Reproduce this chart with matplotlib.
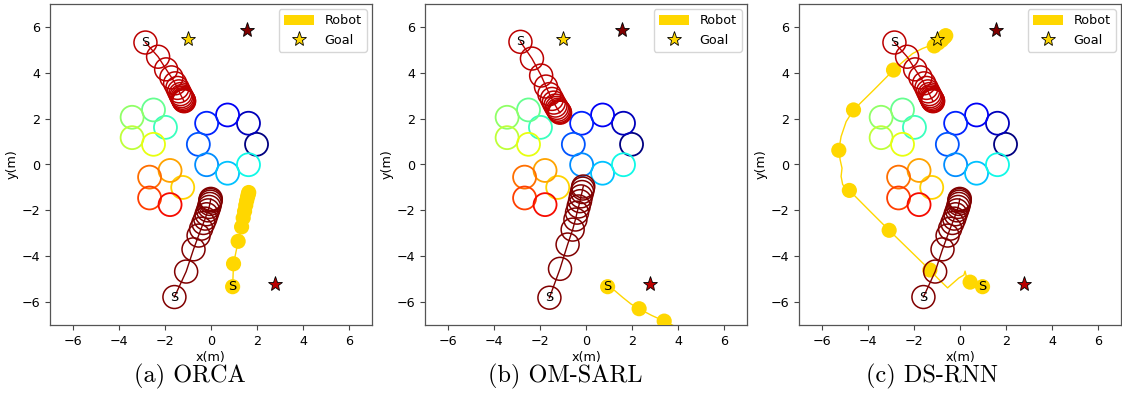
import matplotlib
matplotlib.use("Agg")
import matplotlib.pyplot as plt
from matplotlib.patches import Circle, Patch
from matplotlib.lines import Line2D

plt.rcParams["font.family"] = ["DejaVu Sans"]

# ---- scene data -----------------------------------------------------------
titles = ["(a) ORCA", "(b) OM-SARL", "(c) DS-RNN"]
ticks = [-6, -4, -2, 0, 2, 4, 6]

# static humans (ring, left cluster, lower cluster), in colour-index order
static_humans = [
    (1.98, 0.88), (1.63, 1.80), (0.72, 2.16), (-0.19, 1.80),
    (-0.55, 0.88), (-0.19, -0.01), (0.72, -0.38), (1.63, -0.01),
    (-1.98, 1.62), (-2.50, 2.38), (-3.43, 2.06), (-3.43, 1.17), (-2.50, 0.88),
    (-1.23, -1.00), (-1.78, -0.26), (-2.67, -0.55), (-2.67, -1.46), (-1.78, -1.75),
]

# moving humans: upper walker (index 18) and lower walker (index 19)
upper_walker_ac = [(-2.85, 5.32), (-2.30, 4.70), (-1.95, 4.15), (-1.72, 3.80),
                   (-1.56, 3.54), (-1.46, 3.34), (-1.39, 3.19), (-1.33, 3.07),
                   (-1.29, 2.98), (-1.25, 2.91), (-1.22, 2.85), (-1.20, 2.81),
                   (-1.18, 2.78), (-1.17, 2.76)]
lower_walker_ac = [(-1.59, -5.78), (-1.08, -4.67), (-0.76, -3.70), (-0.54, -3.10),
                   (-0.43, -2.80), (-0.33, -2.55), (-0.25, -2.36), (-0.19, -2.17),
                   (-0.13, -2.00), (-0.08, -1.85), (-0.05, -1.72), (-0.03, -1.62),
                   (-0.02, -1.55), (-0.01, -1.50)]
upper_walker_b = [(-2.85, 5.35), (-2.35, 4.62), (-1.95, 3.88), (-1.74, 3.40),
                  (-1.59, 3.07), (-1.48, 2.86), (-1.40, 2.70), (-1.33, 2.57),
                  (-1.27, 2.47), (-1.22, 2.39), (-1.18, 2.33), (-1.15, 2.29),
                  (-1.13, 2.26)]
lower_walker_b = [(-1.59, -5.81), (-1.13, -4.55), (-0.80, -3.49), (-0.58, -2.84),
                  (-0.46, -2.40), (-0.39, -2.10), (-0.32, -1.83), (-0.26, -1.60),
                  (-0.22, -1.39), (-0.17, -1.20), (-0.14, -1.05), (-0.12, -0.96)]

human_goals = [(1.58, 5.87), (2.79, -5.23)]   # goals of walkers 19 and 18
robot_goal = (-0.98, 5.46)

# robot paths (line) and sampled robot positions (discs)
robot_path_a = [(0.94, -5.33), (0.98, -4.33), (1.18, -3.35), (1.33, -2.72),
                (1.40, -2.33), (1.46, -2.04), (1.51, -1.78), (1.55, -1.58),
                (1.59, -1.42), (1.62, -1.30), (1.64, -1.22)]
robot_disc_a = robot_path_a

robot_path_b = [(0.94, -5.33), (1.25, -5.50), (1.60, -5.80), (1.95, -6.08),
                (2.31, -6.29), (2.85, -6.58), (3.40, -6.83), (3.95, -7.10)]
robot_disc_b = [(0.94, -5.33), (2.31, -6.29), (3.40, -6.83)]

robot_path_c = [(0.98, -5.33), (0.70, -5.22), (0.44, -5.13), (0.30, -4.98),
                (0.22, -4.65), (0.17, -4.82), (-0.05, -4.95), (-0.54, -5.38),
                (-0.95, -4.98), (-1.31, -4.60), (-2.20, -3.73), (-3.08, -2.87),
                (-3.95, -2.00), (-4.81, -1.13), (-5.10, -0.88), (-5.17, -0.52),
                (-5.13, -0.16), (-5.21, 0.20), (-5.27, 0.62), (-5.17, 1.22),
                (-4.95, 1.87), (-4.63, 2.38), (-3.75, 3.25), (-2.89, 4.12),
                (-2.40, 4.55), (-2.06, 4.84), (-1.63, 5.06), (-1.34, 5.17),
                (-1.12, 5.17), (-0.95, 5.30), (-0.80, 5.42), (-0.68, 5.55),
                (-0.62, 5.62)]
robot_disc_c = [(0.98, -5.33), (0.44, -5.13), (-1.31, -4.60), (-3.08, -2.87),
                (-4.81, -1.13), (-5.27, 0.62), (-4.63, 2.38), (-2.89, 4.12),
                (-1.12, 5.17), (-0.95, 5.30), (-0.80, 5.42), (-0.68, 5.55),
                (-0.62, 5.62)]

panels = [
    (robot_path_a, robot_disc_a, upper_walker_ac, lower_walker_ac),
    (robot_path_b, robot_disc_b, upper_walker_b, lower_walker_b),
    (robot_path_c, robot_disc_c, upper_walker_ac, lower_walker_ac),
]

HUMAN_R = 0.5
ROBOT_R = 0.33
ROBOT_COLOR = "#FFD700"
N_HUMANS = 20
cmap = plt.get_cmap("jet")
FS = 9.2

fig = plt.figure(figsize=(11.22, 4.19), dpi=100)
lefts = [50, 425, 799]
caption_x = [190, 565, 932]

for k, (rpath, rdisc, upper, lower) in enumerate(panels):
    ax = fig.add_axes([lefts[k] / 1122, 1 - 325 / 419, 322 / 1122, 321 / 419])
    ax.set_xlim(-7, 7)
    ax.set_ylim(-7, 7)

    # robot
    xs, ys = zip(*rpath)
    ax.plot(xs, ys, color=ROBOT_COLOR, lw=1.0, zorder=2)
    for p in rdisc:
        ax.add_patch(Circle(p, ROBOT_R, facecolor=ROBOT_COLOR, edgecolor="none", zorder=3))
    ax.text(rpath[0][0], rpath[0][1], "S", ha="center", va="center",
            fontsize=FS, color="black", zorder=6)

    # static humans
    for i, p in enumerate(static_humans):
        ax.add_patch(Circle(p, HUMAN_R, fill=False, edgecolor=cmap(i / (N_HUMANS - 1)),
                            lw=1.3, zorder=4))

    # moving humans
    for idx, traj in ((18, upper), (19, lower)):
        col = cmap(idx / (N_HUMANS - 1))
        hx, hy = zip(*traj)
        ax.plot(hx, hy, color=col, lw=1.0, zorder=4)
        for p in traj:
            ax.add_patch(Circle(p, HUMAN_R, fill=False, edgecolor=col, lw=1.1, zorder=4))
        ax.text(traj[0][0], traj[0][1], "S", ha="center", va="center",
                fontsize=FS, color="black", zorder=6)

    # goals
    for g, idx in zip(human_goals, (19, 18)):
        ax.plot(*g, marker="*", ms=11, color=cmap(idx / (N_HUMANS - 1)),
                mec="black", mew=0.6, ls="none", zorder=7)
    ax.plot(*robot_goal, marker="*", ms=11, color=ROBOT_COLOR,
            mec="black", mew=0.6, ls="none", zorder=7)

    ax.set_xticks(ticks)
    ax.set_yticks(ticks)
    ax.tick_params(labelsize=FS, color="#444444", length=3.5)
    for s in ax.spines.values():
        s.set_color("#555555")
        s.set_linewidth(0.9)
    ax.set_xlabel("x(m)", fontsize=FS, labelpad=2)
    ax.set_ylabel("y(m)", fontsize=FS, labelpad=2)

    handles = [Patch(facecolor=ROBOT_COLOR, edgecolor="none"),
               Line2D([], [], marker="*", ms=11, color=ROBOT_COLOR, mec="black",
                      mew=0.6, ls="none")]
    ax.legend(handles, ["Robot", "Goal"], loc="upper right", fontsize=FS,
              handlelength=2.4, handleheight=0.8, borderaxespad=0.4)

    fig.text(caption_x[k] / 1122, 1 - 376 / 419, titles[k], family="cmr10",
             fontsize=17.5, ha="center", va="center")

fig.savefig("out.png", dpi=100)
